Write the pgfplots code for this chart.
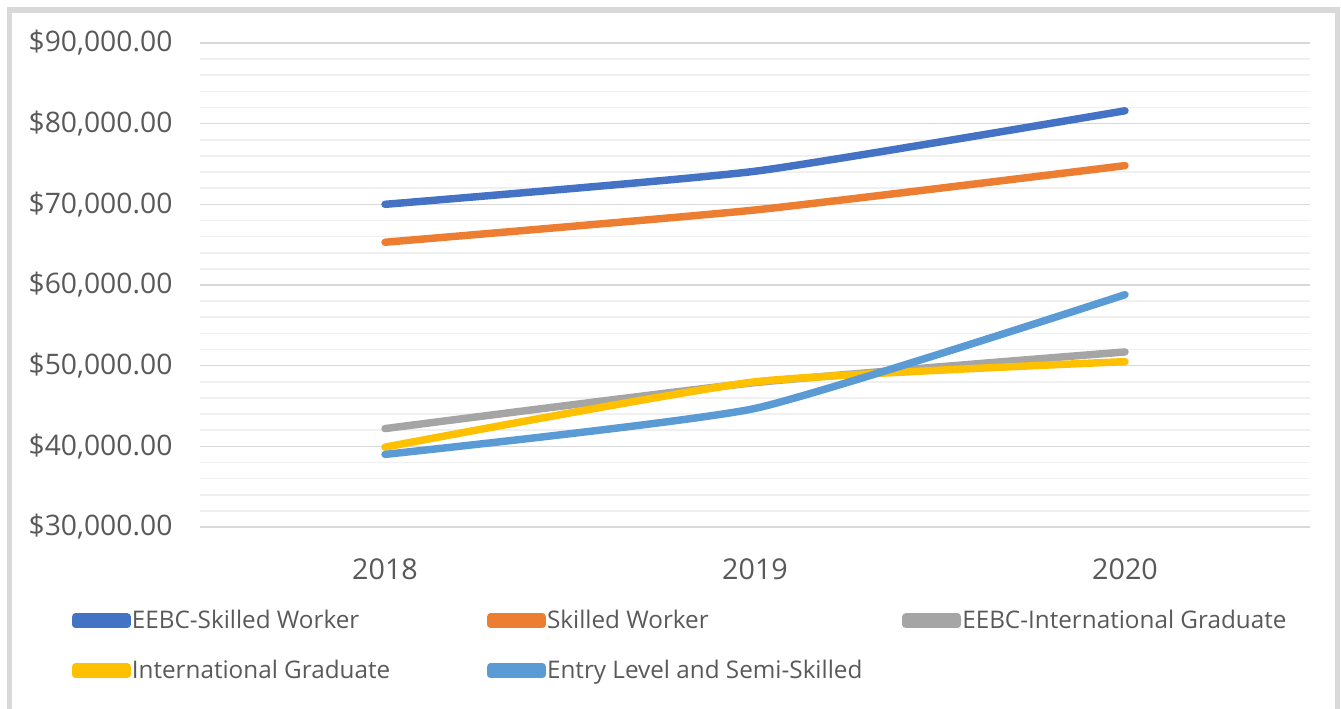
\documentclass[border=0pt]{standalone}
\usepackage{pgfplots}
\pgfplotsset{compat=1.18}
\usepackage{fontspec}
\setmainfont{Open Sans}
\definecolor{cBlue}{HTML}{4472C4}
\definecolor{cOrange}{HTML}{ED7D31}
\definecolor{cGray}{HTML}{A5A5A5}
\definecolor{cYellow}{HTML}{FFC000}
\definecolor{cLBlue}{HTML}{5B9BD5}
\definecolor{txt}{HTML}{595959}
\definecolor{gmaj}{HTML}{D9D9D9}
\definecolor{gmin}{HTML}{F0F0F0}
\definecolor{frame}{HTML}{D9D9D9}
\pgfplotstableread{
x eskilled skilled eintgrad intgrad entry
0 70000 65300 42200 39900 39000
1 74100 69300 47900 48000 44700
2 81600 74800 51700 50500 58800
}\datatable
\newcommand{\legtxt}[1]{\makebox[265.5pt][l]{#1}}
\begin{document}
\begin{tikzpicture}
\clip (0,0) rectangle (1005.75pt,531pt);
\draw[frame, line width=3.8pt] (7.1pt,-20pt) -- (7.1pt,523.5pt) -- (1003.1pt,523.5pt) -- (1003.1pt,-20pt);
\begin{axis}[
  at={(150pt,135.75pt)}, anchor=south west,
  scale only axis, width=832.5pt, height=363pt,
  xmin=-0.5, xmax=2.5, ymin=30000, ymax=90000,
  xtick={0,1,2}, xticklabels={2018,2019,2020},
  ytick={30000,40000,50000,60000,70000,80000,90000},
  yticklabels={{\$30,000.00},{\$40,000.00},{\$50,000.00},{\$60,000.00},{\$70,000.00},{\$80,000.00},{\$90,000.00}},
  scaled y ticks=false,
  minor y tick num=4,
  ymajorgrids, yminorgrids,
  major grid style={gmaj, line width=1.2pt},
  minor grid style={gmin, line width=1.2pt},
  major tick length=0pt, minor tick length=0pt,
  axis x line*=bottom, axis y line*=left,
  axis line style={draw=none},
  yticklabel style={font=\fontsize{21.2}{25}\selectfont, text=txt, inner sep=0pt, anchor=east, xshift=-20.5pt},
  xticklabel style={font=\fontsize{21.5}{26}\selectfont, text=txt, inner sep=0pt, anchor=north, yshift=-23.25pt},
  legend columns=3,
  legend cell align=left,
  legend style={at={(-0.1156,-0.2453)}, anchor=west, draw=none, fill=none,
    inner sep=0pt, outer sep=0pt, column sep=0.75pt, row sep=19.5pt,
    font=\fontsize{18.2}{21.5}\selectfont, text=txt,
    nodes={inner sep=0pt, text height=15pt, text depth=3pt}},
  legend image code/.code={
    \path (0pt,-2.8pt) rectangle (38.8pt,2.8pt);
    \draw[#1, line cap=round] (2.8pt,0pt) -- (38.8pt,0pt);
  },
  every axis plot/.append style={line width=5.6pt, line cap=round, line join=round, smooth, tension=0.3},
]
\addplot[cBlue, no marks] table[x=x, y=eskilled] {\datatable};
\addlegendentry{\legtxt{EEBC-Skilled Worker}}
\addplot[cOrange, no marks] table[x=x, y=skilled] {\datatable};
\addlegendentry{\legtxt{Skilled Worker}}
\addplot[cGray, no marks] table[x=x, y=eintgrad] {\datatable};
\addlegendentry{\legtxt{EEBC-International Graduate}}
\addplot[cYellow, no marks] table[x=x, y=intgrad] {\datatable};
\addlegendentry{\legtxt{International Graduate}}
\addplot[cLBlue, no marks] table[x=x, y=entry] {\datatable};
\addlegendentry{\legtxt{Entry Level and Semi-Skilled}}
\end{axis}
\end{tikzpicture}
\end{document}
